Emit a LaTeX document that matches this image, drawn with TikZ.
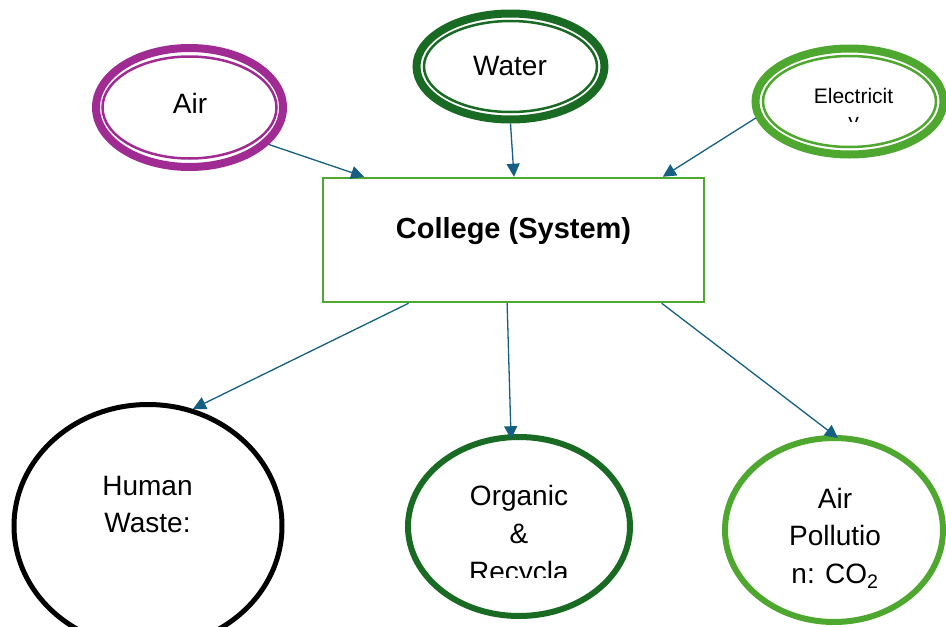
\documentclass[tikz,border=0pt]{standalone}
\usepackage{fontspec}
\setmainfont{Liberation Sans}
\usetikzlibrary{shapes.geometric,arrows.meta,calc}
\definecolor{cpurple}{HTML}{A02B93}
\definecolor{cdgreen}{HTML}{196B24}
\definecolor{clgreen}{HTML}{4EA72E}
\definecolor{carrow}{HTML}{156082}
\begin{document}
\begin{tikzpicture}[x=1pt,y=-1pt,
  ring/.style={ellipse, draw=#1, line width=8pt, fill=white, minimum width=188pt, minimum height=106pt, inner sep=0pt},
  innerring/.style={draw=#1, line width=2.5pt},
  outcircle/.style={ellipse, draw=#1, line width=6pt, fill=white, inner sep=0pt},
  bigtxt/.style={font=\fontsize{28}{34}\selectfont, anchor=base, inner sep=0pt},
  smalltxt/.style={font=\fontsize{21}{25}\selectfont, anchor=base, inner sep=0pt},
  systxt/.style={font=\fontsize{29}{35}\selectfont\bfseries, anchor=base, inner sep=0pt},
  sysbox/.style={rectangle, draw=clgreen, line width=2.5pt, minimum width=381pt, minimum height=124pt, inner sep=0pt},
  arr/.style={draw=carrow, line width=1.3pt, -{Triangle[length=13pt,width=13pt]}}
]
\useasboundingbox (0,0) rectangle (946,627);
\clip (0,0) rectangle (946,627);

% inputs
\node[ring=cpurple, minimum width=187pt, minimum height=119pt] (air) at (189.5,107.5) {};
\draw[innerring=cpurple] (air.center) ellipse [x radius=87pt, y radius=51pt];
\node[bigtxt] (airtxt) at (190,113) {Air};

\node[ring=cdgreen] (water) at (510.5,66.5) {};
\draw[innerring=cdgreen] (water.center) ellipse [x radius=86.5pt, y radius=45.5pt];
\node[bigtxt] (watertxt) at (510,75) {Water};

\node[ring=clgreen] (elec) at (849.5,101.5) {};
\draw[innerring=clgreen] (elec.center) ellipse [x radius=86.5pt, y radius=45.5pt];
\node[smalltxt] (electxt) at (853.5,103) {Electricit};
\begin{scope}
  \clip (800,106) rectangle (900,121);
  \node[smalltxt] (electxtb) at (853.5,128) {y};
\end{scope}

% system
\node[sysbox] (sys) at (513.25,240) {};
\node[systxt] (systxt) at (513.5,238) {College (System)};

% outputs
\node[outcircle=black, line width=5pt, minimum width=268pt, minimum height=243pt] (human) at (148,526) {};
\node[bigtxt] (humantxta) at (147.5,495) {Human};
\node[bigtxt] (humantxtb) at (147.5,532) {Waste:};

\node[outcircle=cdgreen, minimum width=222pt, minimum height=179pt] (org) at (519,526.5) {};
\node[bigtxt] (orgtxta) at (519,505) {Organic};
\node[bigtxt] (orgtxtb) at (519,543) {\&};
\begin{scope}
  \clip (440,550) rectangle (600,577.5);
  \node[bigtxt] (orgtxtc) at (519,581) {Recycla};
\end{scope}

\node[outcircle=clgreen, minimum width=218pt, minimum height=184pt] (airp) at (834,530) {};
\node[bigtxt] (airptxta) at (835,508) {Air};
\node[bigtxt] (airptxtb) at (835,545) {Pollutio};
\node[bigtxt] (airptxtc) at (835,583) {n: CO\textsubscript{2}};

% connectors
\draw[arr] (air.-25) -- ($(sys.north west)!0.111!(sys.north east)$);
\draw[arr] (water.south) -- ($(sys.north west)!0.502!(sys.north east)$);
\draw[arr] (elec.190) -- ($(sys.north west)!0.89!(sys.north east)$);
\draw[arr] ($(sys.south west)!0.227!(sys.south east)$) -- (human.69);
\draw[arr, shorten >=-5pt] ($(sys.south west)!0.484!(sys.south east)$) -- (org.95);
\draw[arr, shorten >=-5pt] ($(sys.south west)!0.887!(sys.south east)$) -- (airp.north);
\end{tikzpicture}
\end{document}
